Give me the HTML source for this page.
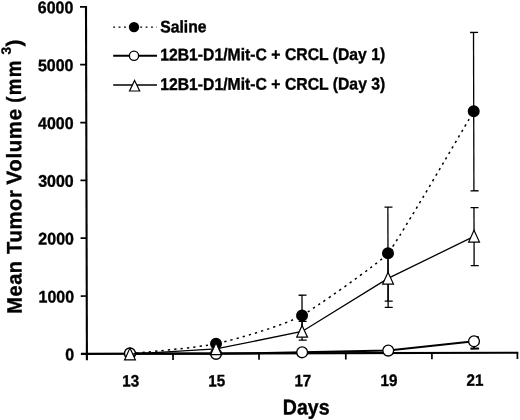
<!DOCTYPE html>
<html><head><meta charset="utf-8"><title>chart</title>
<style>
html,body{margin:0;padding:0;background:#fff;}
body{width:520px;height:420px;overflow:hidden;}
svg{display:block;filter:grayscale(1);}
text{font-family:"Liberation Sans",sans-serif;font-weight:bold;fill:#000;stroke:#000;stroke-width:0.35px;}
</style></head><body>
<svg width="520" height="420" viewBox="0 0 520 420">
<rect width="520" height="420" fill="#fff"/>
<g transform="rotate(-0.15 86.9 353.85)">
<g stroke="#000" fill="none">
<line x1="86.90" y1="5.97" x2="86.90" y2="360.15" stroke-width="2.1"/>
<line x1="80.90" y1="353.85" x2="518.25" y2="353.85" stroke-width="2.1"/>
<line x1="80.90" y1="296.02" x2="86.90" y2="296.02" stroke-width="1.7"/>
<line x1="80.90" y1="238.19" x2="86.90" y2="238.19" stroke-width="1.7"/>
<line x1="80.90" y1="180.36" x2="86.90" y2="180.36" stroke-width="1.7"/>
<line x1="80.90" y1="122.53" x2="86.90" y2="122.53" stroke-width="1.7"/>
<line x1="80.90" y1="64.70" x2="86.90" y2="64.70" stroke-width="1.7"/>
<line x1="80.90" y1="6.87" x2="86.90" y2="6.87" stroke-width="1.7"/>
<line x1="173.00" y1="353.85" x2="173.00" y2="360.15" stroke-width="1.7"/>
<line x1="259.00" y1="353.85" x2="259.00" y2="360.15" stroke-width="1.7"/>
<line x1="345.80" y1="353.85" x2="345.80" y2="360.15" stroke-width="1.7"/>
<line x1="431.90" y1="353.85" x2="431.90" y2="360.15" stroke-width="1.7"/>
<line x1="517.40" y1="353.85" x2="517.40" y2="360.15" stroke-width="1.7"/>
</g>
<text transform="translate(74.2,360.15) scale(1,1.05)" font-size="16" text-anchor="end">0</text>
<text transform="translate(74.2,302.32) scale(1,1.05)" font-size="16" text-anchor="end">1000</text>
<text transform="translate(74.2,244.49) scale(1,1.05)" font-size="16" text-anchor="end">2000</text>
<text transform="translate(74.2,186.66) scale(1,1.05)" font-size="16" text-anchor="end">3000</text>
<text transform="translate(74.2,128.83) scale(1,1.05)" font-size="16" text-anchor="end">4000</text>
<text transform="translate(74.2,71.00) scale(1,1.05)" font-size="16" text-anchor="end">5000</text>
<text transform="translate(74.2,13.17) scale(1,1.05)" font-size="16" text-anchor="end">6000</text>
<text transform="translate(130.55,386.7) scale(0.95,1.03)" font-size="16" text-anchor="middle">13</text>
<text transform="translate(216.65,386.7) scale(0.95,1.03)" font-size="16" text-anchor="middle">15</text>
<text transform="translate(302.75,386.7) scale(0.95,1.03)" font-size="16" text-anchor="middle">17</text>
<text transform="translate(388.85,386.7) scale(0.95,1.03)" font-size="16" text-anchor="middle">19</text>
<text transform="translate(474.95,386.7) scale(0.95,1.03)" font-size="16" text-anchor="middle">21</text>
<text transform="translate(282.6,415) scale(0.98,1.07)" font-size="20">Days</text>
<g transform="translate(21.8,313.6) rotate(-90)"><g font-size="21" letter-spacing="0.65"><text transform="scale(0.95,1)">Mean</text><text transform="translate(59.7,0) scale(0.963,1)">Tumor</text><text transform="translate(129.3,0) scale(0.974,1)">Volume</text><text transform="translate(210.9,0) scale(0.9,1)" letter-spacing="1.4">(mm</text></g><text x="259.2" y="-10.4" font-size="13.5">3</text><text x="267.4" y="0" font-size="21">)</text></g>
<g stroke="#000" fill="none">
<line x1="302.15" y1="295.80" x2="302.15" y2="336.30" stroke-width="1.30"/><line x1="298.75" y1="295.80" x2="306.75" y2="295.80" stroke-width="1.30"/><line x1="298.75" y1="336.30" x2="306.75" y2="336.30" stroke-width="1.30"/>
<line x1="388.25" y1="207.90" x2="388.25" y2="301.90" stroke-width="1.30"/><line x1="384.85" y1="207.90" x2="392.85" y2="207.90" stroke-width="1.30"/><line x1="384.85" y1="301.90" x2="392.85" y2="301.90" stroke-width="1.30"/>
<line x1="474.35" y1="33.50" x2="474.35" y2="191.80" stroke-width="1.30"/><line x1="470.95" y1="33.50" x2="478.95" y2="33.50" stroke-width="1.30"/><line x1="470.95" y1="191.80" x2="478.95" y2="191.80" stroke-width="1.30"/>
<path d="M129.95 353.85 C138.56 352.87 198.83 347.83 216.05 344.05 C236.71 339.51 281.49 326.84 302.15 316.05 C310.19 311.85 380.21 263.61 388.25 254.10 C398.01 242.55 469.47 120.34 474.35 112.30" stroke-width="1.5" stroke-dasharray="2.3 4.05"/>
</g>
<circle cx="129.95" cy="353.85" r="6" fill="#000"/>
<circle cx="216.05" cy="344.05" r="6" fill="#000"/>
<circle cx="302.15" cy="316.05" r="6" fill="#000"/>
<circle cx="388.25" cy="254.10" r="6" fill="#000"/>
<circle cx="474.35" cy="112.30" r="6" fill="#000"/>
<g stroke="#000" fill="none">
<line x1="474.05" y1="338.2" x2="474.05" y2="349.6" stroke-width="2"/>
<line x1="471.55" y1="338.2" x2="478.95" y2="338.2" stroke-width="1.8"/>
<line x1="470.45" y1="349.6" x2="479.15" y2="349.6" stroke-width="2.1"/>
<polyline points="129.95,353.50 216.05,354.20 302.15,352.90 388.25,351.40 474.35,342.30" stroke-width="2"/>
</g>
<circle cx="129.95" cy="353.50" r="5.4" fill="#fff" stroke="#000" stroke-width="1.3"/>
<circle cx="216.05" cy="354.20" r="5.4" fill="#fff" stroke="#000" stroke-width="1.3"/>
<circle cx="302.15" cy="352.90" r="5.4" fill="#fff" stroke="#000" stroke-width="1.3"/>
<circle cx="388.25" cy="351.40" r="5.4" fill="#fff" stroke="#000" stroke-width="1.3"/>
<circle cx="474.05" cy="342.30" r="5.4" fill="#fff" stroke="#000" stroke-width="1.3"/>
<g stroke="#000" fill="none">
<line x1="302.15" y1="321.90" x2="302.15" y2="340.70" stroke-width="1.30"/><line x1="298.75" y1="321.90" x2="306.75" y2="321.90" stroke-width="1.30"/><line x1="298.75" y1="340.70" x2="306.75" y2="340.70" stroke-width="1.30"/>
<line x1="388.25" y1="250.50" x2="388.25" y2="308.20" stroke-width="1.30"/><line x1="384.85" y1="250.50" x2="392.85" y2="250.50" stroke-width="1.30"/><line x1="384.85" y1="308.20" x2="392.85" y2="308.20" stroke-width="1.30"/>
<line x1="474.35" y1="208.70" x2="474.35" y2="266.70" stroke-width="1.30"/><line x1="470.95" y1="208.70" x2="478.95" y2="208.70" stroke-width="1.30"/><line x1="470.95" y1="266.70" x2="478.95" y2="266.70" stroke-width="1.30"/>
<polyline points="129.95,354.30 216.05,349.30 302.15,332.05 388.25,279.20 474.35,237.40" stroke-width="1.3"/>
</g>
<path d="M129.95 348.20 L135.35 360.00 L124.55 360.00 Z" fill="#fff" stroke="#000" stroke-width="1.2" stroke-linejoin="miter"/>
<path d="M216.05 343.20 L221.45 355.00 L210.65 355.00 Z" fill="#fff" stroke="#000" stroke-width="1.2" stroke-linejoin="miter"/>
<path d="M302.15 325.95 L307.55 337.75 L296.75 337.75 Z" fill="#fff" stroke="#000" stroke-width="1.2" stroke-linejoin="miter"/>
<path d="M388.25 273.10 L393.65 284.90 L382.85 284.90 Z" fill="#fff" stroke="#000" stroke-width="1.2" stroke-linejoin="miter"/>
<path d="M474.35 231.30 L479.75 243.10 L468.95 243.10 Z" fill="#fff" stroke="#000" stroke-width="1.2" stroke-linejoin="miter"/>
<g stroke="#000" fill="none">
<line x1="114.05" y1="27.17" x2="157.65" y2="27.28" stroke-width="1.4" stroke-dasharray="1.9 3.5"/>
<line x1="113.97" y1="55.87" x2="157.77" y2="55.98" stroke-width="2"/>
<line x1="113.90" y1="85.07" x2="157.70" y2="85.18" stroke-width="1.3"/>
</g>
<circle cx="134.85" cy="27.22" r="5.2" fill="#000"/>
<circle cx="134.77" cy="55.92" r="4.6" fill="#fff" stroke="#000" stroke-width="1.3"/>
<path d="M135.30 80.52 l5.1 10.6 l-10.2 0 Z" fill="#fff" stroke="#000" stroke-width="1.2"/>
<text transform="translate(161.04,32.64) scale(0.998,1.07)" font-size="15.8">Saline</text>
<text transform="translate(160.96,60.64) scale(0.998,1.07)" font-size="15.8">12B1-D1/Mit-C + CRCL (Day 1)</text>
<text transform="translate(160.89,90.24) scale(0.998,1.07)" font-size="15.8">12B1-D1/Mit-C + CRCL (Day 3)</text>
</g>
</svg></body></html>
